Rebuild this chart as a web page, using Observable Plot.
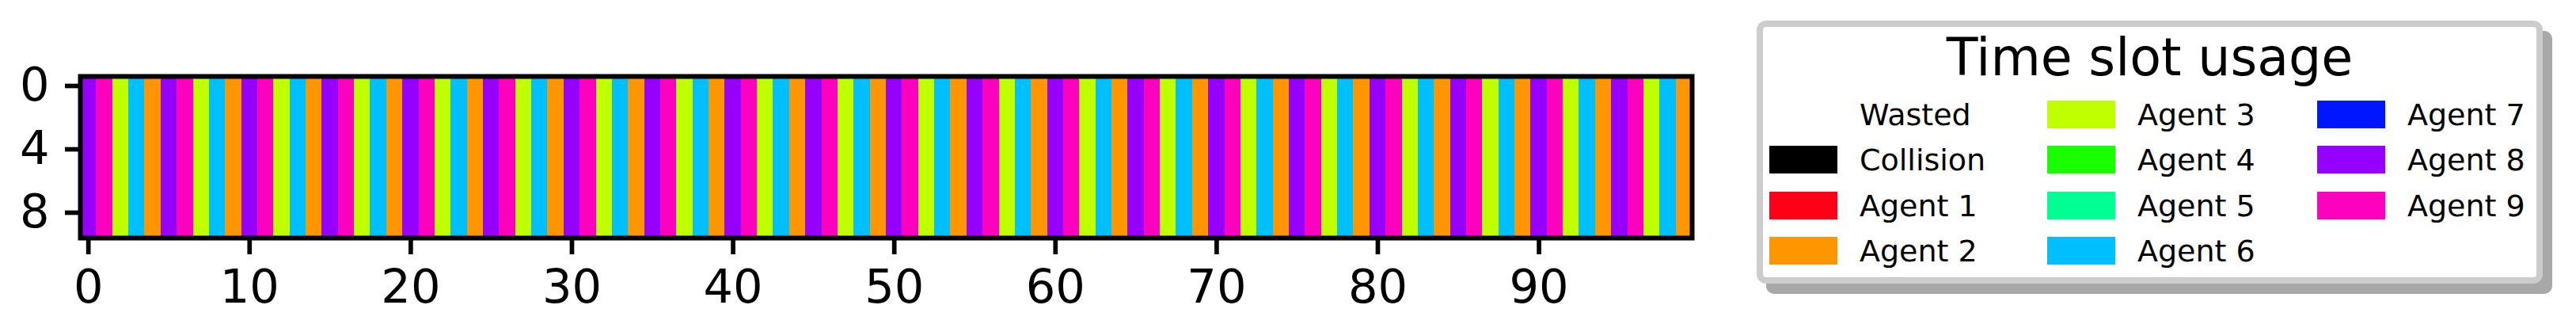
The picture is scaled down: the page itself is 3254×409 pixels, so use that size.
<!DOCTYPE html>
<html><head><meta charset="utf-8">
<script src="https://cdn.jsdelivr.net/npm/d3@7"></script>
<script src="https://cdn.jsdelivr.net/npm/@observablehq/plot@0.6"></script>
<style>
html,body{margin:0;padding:0;background:#fff;}
#wrap{position:relative;width:3254px;height:409px;overflow:hidden;font-family:"DejaVu Sans",sans-serif;}
#wrap > svg{position:absolute;left:0;top:0;}
</style></head><body><div id="wrap"></div>
<script>
// ---- data ----
const slotIndex = d3.range(100);
const rowIndex = [0,1,2,3,4,5,6,7,8,9];
const xTicks = [0,10,20,30,40,50,60,70,80,90];
const yTicks = [0,4,8];
// agent owning each time slot (read column by column)
const slotOwner = [
  8,9,3,6,2, 8,9,3,6,2, 8,9,3,6,2, 8,9,3,6,2,
  8,9,3,6,2, 8,9,3,6,2, 8,9,3,6,2, 8,9,3,6,2,
  8,9,3,6,2, 8,9,3,6,2, 8,9,3,6,2, 8,9,3,6,2,
  8,9,3,6,2, 8,9,3,6,2, 8,9,3,6,2, 8,9,3,6,2,
  8,9,3,6,2, 8,9,3,6,2, 8,9,3,6,2, 8,9,3,6,2
];
const legendTitle = "Time slot usage";
const legendLabels = ["Wasted","Collision","Agent 1","Agent 2","Agent 3","Agent 4","Agent 5","Agent 6","Agent 7","Agent 8","Agent 9"];
const legendColors = ["#ffffff","#000000","#ff0016","#ff9600","#bfff00","#1aff00","#00ff93","#00bfff","#0016ff","#9600ff","#ff00bf"];

// ---- chart ----
const cells = rowIndex.flatMap(r => slotIndex.map(s => ({slot: s, row: r, owner: "Agent " + slotOwner[s]})));

const chart = Plot.plot({
  width: 2200, height: 409,
  marginLeft: 101, marginRight: 63, marginTop: 96, marginBottom: 109,
  x: {type: "band", domain: slotIndex, padding: 0},
  y: {type: "band", domain: rowIndex, padding: 0},
  color: {type: "ordinal", domain: legendLabels, range: legendColors},
  style: {fontFamily: "DejaVu Sans", color: "black", background: "transparent", overflow: "visible"},
  marks: [
    Plot.cell(cells, {x: "slot", y: "row", fill: "owner", inset: 0, shapeRendering: "crispEdges"}),
    Plot.frame({stroke: "black", strokeWidth: 6}),
    Plot.axisX({ticks: xTicks, tickSize: 21, tickPadding: 19, strokeWidth: 5.7, fontSize: 59, label: null}),
    Plot.axisY({ticks: yTicks, tickSize: 19, tickPadding: 20, strokeWidth: 5.7, fontSize: 59, label: null})
  ]
});
document.getElementById("wrap").appendChild(chart);

// ---- legend ----
const L = d3.select("#wrap").append("svg")
  .attr("width", 3254).attr("height", 409)
  .style("font-family", "DejaVu Sans");
const box = {x: 2219, y: 26, w: 993, h: 332};
L.append("rect").attr("x", box.x + 12).attr("y", box.y + 13).attr("width", box.w).attr("height", box.h)
  .attr("rx", 10).attr("fill", "#a8a8a8");
L.append("rect").attr("x", box.x + 4).attr("y", box.y + 4).attr("width", box.w - 8).attr("height", box.h - 8)
  .attr("rx", 8).attr("fill", "#ffffff").attr("stroke", "#cccccc").attr("stroke-width", 8);
L.append("text").attr("x", box.x + box.w / 2).attr("y", 95).attr("text-anchor", "middle")
  .attr("font-size", 65).attr("fill", "black").text(legendTitle);
const colX = [2235, 2586, 2927];
const rowY = [127, 184, 242, 299];
legendLabels.forEach((lab, i) => {
  const c = Math.floor(i / 4), r = i % 4;
  const g = L.append("g");
  g.append("rect").attr("x", colX[c]).attr("y", rowY[r]).attr("width", 86).attr("height", 35)
    .attr("fill", legendColors[i]);
  g.append("text").attr("x", colX[c] + 114).attr("y", rowY[r] + 31)
    .attr("font-size", 38).attr("fill", "black").text(lab);
});
</script>
</body></html>
